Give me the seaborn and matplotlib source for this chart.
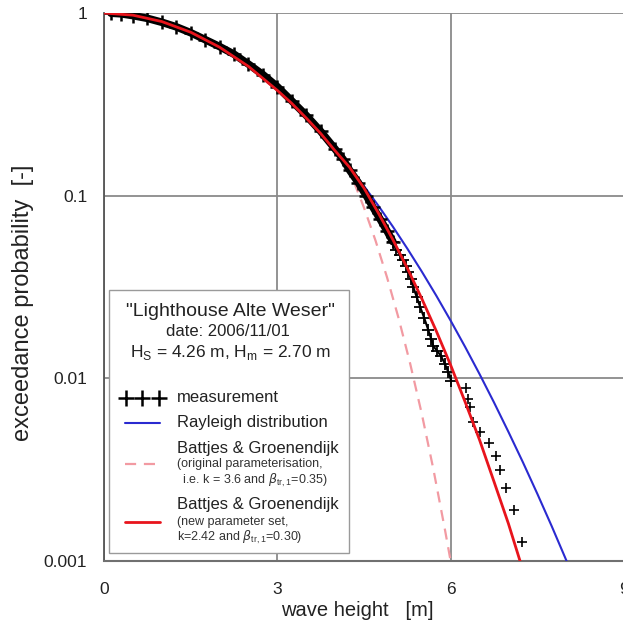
import matplotlib
matplotlib.use("Agg")
from matplotlib import pyplot as plt
from matplotlib.lines import Line2D
from matplotlib.patches import Rectangle
from matplotlib.ticker import FixedLocator, LogLocator, NullFormatter
import seaborn as sns

# measured exceedance probabilities (read off the chart)
# dense upper part of the record
band_h = [0.12, 0.30, 0.50, 0.75, 1.00, 1.25, 1.50, 1.75, 2.00, 2.25, 2.50, 2.75,
          3.00, 3.25, 3.50, 3.75, 4.00, 4.14, 4.25, 4.40, 4.54, 4.65, 4.78, 4.90, 5.00]
band_p = [0.998, 0.990, 0.968, 0.935, 0.890, 0.840, 0.780, 0.715, 0.655, 0.595, 0.525, 0.460,
          0.395, 0.330, 0.275, 0.225, 0.180, 0.158, 0.138, 0.118, 0.100, 0.087, 0.0743, 0.064,
          0.056]
# steep part, crosses still overlapping
steep_h = [5.00, 5.06, 5.12, 5.18, 5.23, 5.27, 5.31, 5.35, 5.41, 5.47, 5.54, 5.61, 5.66,
           5.70, 5.76, 5.83, 5.90, 5.96, 6.01]
steep_p = [0.056, 0.0507, 0.0475, 0.0447, 0.041, 0.038, 0.035, 0.0318, 0.028, 0.0247, 0.0215,
           0.0185, 0.0165, 0.0150, 0.0142, 0.0133, 0.0120, 0.0108, 0.0097]
# single crosses of the largest waves
tail_h = [6.26, 6.30, 6.34, 6.38, 6.51, 6.67, 6.79, 6.85, 6.96, 7.09, 7.23]
tail_p = [0.00887, 0.00773, 0.00695, 0.00575, 0.00507, 0.00444, 0.00378, 0.00316,
          0.00252, 0.00191, 0.00127]

# Rayleigh distribution
ray_h = [0, 0.5, 1.0, 1.5, 2.0, 2.5, 3.0, 3.25, 3.5, 3.75, 4.0, 4.25, 4.5, 4.75, 5.0, 5.25,
         5.5, 5.75, 6.0, 6.25, 6.5, 6.75, 7.0, 7.25, 7.5, 7.75, 8.0, 8.2]
ray_p = [1.0, 0.9734, 0.8979, 0.7847, 0.6499, 0.5100, 0.3792, 0.3205, 0.2672, 0.2198, 0.1784,
         0.1428, 0.1128, 0.0880, 0.06764, 0.0513, 0.03843, 0.02839, 0.02068, 0.01487, 0.01055,
         0.00738, 0.005091, 0.003473, 0.002333, 0.001548, 0.001011, 0.000714]

# Battjes & Groenendijk, original parameterisation (dashed)
bgo_h = [4.2, 4.3, 4.5, 4.7, 4.9, 5.1, 5.3, 5.5, 5.7, 5.9, 6.0, 6.05]
bgo_p = [0.148, 0.1245, 0.0860, 0.0567, 0.0356, 0.02127, 0.0120, 0.00639,
         0.00319, 0.00149, 0.000997, 0.00082]

# Battjes & Groenendijk, new parameter set
bgn_h = [0, 0.5, 1.0, 1.5, 2.0, 2.5, 3.0, 3.25, 3.5, 3.75, 4.0, 4.25, 4.5, 4.75, 5.0, 5.25,
         5.5, 5.75, 6.0, 6.25, 6.5, 6.75, 7.0, 7.25, 7.5]
bgn_p = [1.0, 0.973, 0.898, 0.785, 0.650, 0.510, 0.377, 0.320, 0.266, 0.219, 0.176, 0.143,
         0.110, 0.0802, 0.0574, 0.0401, 0.0273, 0.01819, 0.0118, 0.00743, 0.0046, 0.00272,
         0.0016, 0.000891, 0.00049]

sns.set_style("white")
plt.rcParams['font.family'] = ['Liberation Sans', 'DejaVu Sans']
plt.rcParams['mathtext.fontset'] = 'custom'
plt.rcParams['mathtext.rm'] = 'Liberation Sans'

W, H = 623, 628
fig = plt.figure(figsize=(W / 100, H / 100), dpi=100)
ax = fig.add_axes([104 / W, 1 - 561 / H, 520 / W, 548 / H])

blue = '#2a2ad0'
red = '#e8141c'
pink = '#f29aa2'

sns.lineplot(x=bgo_h, y=bgo_p, ax=ax, color=pink, lw=1.6, sort=False,
             estimator=None, zorder=2).lines[-1].set_dashes([5, 3.5])
sns.lineplot(x=ray_h, y=ray_p, ax=ax, color=blue, lw=1.5, sort=False, estimator=None, zorder=3)
sns.lineplot(x=band_h, y=band_p, ax=ax, color='black', lw=5.5, sort=False, estimator=None,
             marker='+', markersize=10, markeredgewidth=1.8, markeredgecolor='black', zorder=4)
sns.lineplot(x=steep_h, y=steep_p, ax=ax, color='black', lw=1.5, sort=False, estimator=None,
             marker='+', markersize=8, markeredgewidth=1.3, markeredgecolor='black', zorder=4)
sns.scatterplot(x=tail_h, y=tail_p, ax=ax, marker='+', color='black', s=50, linewidth=1.2, zorder=4)
sns.lineplot(x=bgn_h, y=bgn_p, ax=ax, color=red, lw=2.0, sort=False, estimator=None, zorder=5)

ax.set_yscale('log')
ax.set_xlim(0, 9)
ax.set_ylim(0.001, 1)
ax.set_xticks([0, 3, 6, 9])
ax.set_xticklabels(['0', '3', '6', '9'])
ax.xaxis.set_minor_locator(FixedLocator([1.5, 4.5, 7.5]))
ax.yaxis.set_major_locator(FixedLocator([0.001, 0.01, 0.1, 1]))
ax.set_yticklabels(['0.001', '0.01', '0.1', '1'])
ax.yaxis.set_minor_locator(LogLocator(base=10, subs=range(2, 10)))
ax.yaxis.set_minor_formatter(NullFormatter())

ax.grid(True, which='major', color='#8a8a8a', lw=1.3)
ax.set_axisbelow(True)
for side in ['top', 'right']:
    ax.spines[side].set_visible(False)
ax.spines['left'].set_color('#555555')
ax.spines['left'].set_linewidth(1.3)
ax.spines['bottom'].set_color('#707070')
ax.spines['bottom'].set_linewidth(1.5)

ax.tick_params(axis='x', which='major', direction='inout', length=6, width=1.2, color='#666666',
               labelsize=12.5, pad=12, labelcolor='#222222')
ax.tick_params(axis='x', which='minor', direction='inout', length=4, width=1.0, color='#666666')
ax.tick_params(axis='y', which='major', direction='inout', length=6, width=1.2, color='#555555',
               labelsize=12.5, pad=9, labelcolor='#222222')
ax.tick_params(axis='y', which='minor', direction='inout', length=4, width=0.9, color='#555555')

ax.set_xlabel('wave height   [m]', fontsize=14.5, color='#222222')
ax.xaxis.set_label_coords(0.4875, -0.073)
ax.set_ylabel('exceedance probability  [-]', fontsize=17, color='#222222')
ax.yaxis.set_label_coords(-0.135, 0.471)


# legend box, built by hand (pixel positions of the reference)
def fp(px, py):
    return px / W, 1 - py / H


box = Rectangle(fp(109, 553), 240 / W, 263 / H, transform=fig.transFigure,
                facecolor='white', edgecolor='#9a9a9a', lw=1.0, zorder=10)
fig.add_artist(box)

tc = '#222222'
fig.text(*fp(230, 311), '"Lighthouse Alte Weser"', fontsize=14, ha='center', va='center',
         color=tc, zorder=11)
fig.text(*fp(228, 332), 'date: 2006/11/01', fontsize=12, ha='center', va='center',
         color=tc, zorder=11)
fig.text(*fp(231, 352), r'H$_\mathregular{S}$ = 4.26 m, H$_\mathregular{m}$ = 2.70 m',
         fontsize=12.5, ha='center', va='center', color=tc, zorder=11)

for cx in [126, 142, 159]:
    fig.add_artist(Line2D([cx / W], [1 - 398 / H], marker='+', markersize=11,
                          markeredgewidth=1.8, color='black', linestyle='none', zorder=11))
fig.text(*fp(177, 398), 'measurement', fontsize=12, va='center', color=tc, zorder=11)

fig.add_artist(Line2D([125 / W, 160 / W], [1 - 423 / H] * 2, color=blue, lw=1.5, zorder=11))
fig.text(*fp(177, 423), 'Rayleigh distribution', fontsize=12, va='center', color=tc, zorder=11)

fig.text(*fp(177, 448), 'Battjes & Groenendijk', fontsize=12, va='center', color=tc, zorder=11)
fig.add_artist(Line2D([125 / W, 160 / W], [1 - 464 / H] * 2, color=pink, lw=1.6,
                      dashes=[5, 3.5], zorder=11))
fig.text(*fp(177, 464), '(original parameterisation,', fontsize=9, va='center',
         color='#333333', zorder=11)
fig.text(*fp(179, 480), r' i.e. k = 3.6 and $\beta_{\mathregular{tr,1}}$=0.35)', fontsize=9,
         va='center', color='#333333', zorder=11)

fig.text(*fp(177, 505), 'Battjes & Groenendijk', fontsize=12, va='center', color=tc, zorder=11)
fig.add_artist(Line2D([125 / W, 160 / W], [1 - 522 / H] * 2, color=red, lw=2.0, zorder=11))
fig.text(*fp(177, 522), '(new parameter set,', fontsize=9, va='center', color='#333333', zorder=11)
fig.text(*fp(177, 537), r'k=2.42 and $\beta_{\mathregular{tr,1}}$=0.30)', fontsize=9,
         va='center', color='#333333', zorder=11)

fig.savefig('out.png', dpi=100)
